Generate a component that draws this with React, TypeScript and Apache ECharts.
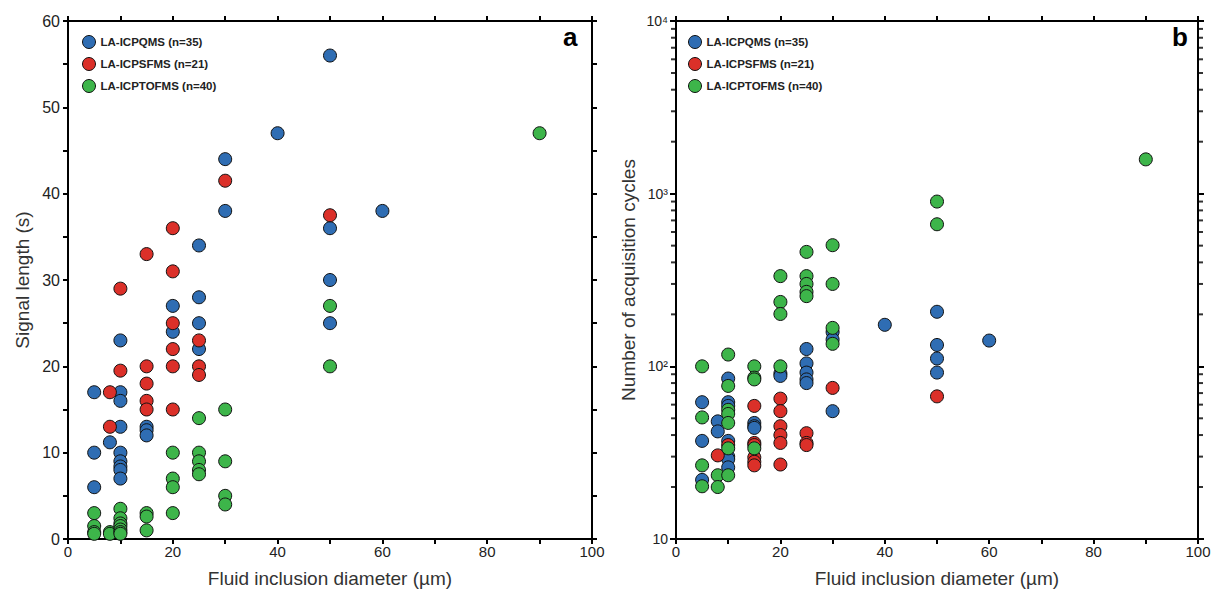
import React, { useEffect, useRef } from 'react';
import * as echarts from 'echarts';

const FONT = 'Arial, "Liberation Sans", Helvetica, sans-serif';
const BLUE = '#2f6db3';
const RED = '#db3029';
const GREEN = '#3db54a';

const seriesNames = ['LA-ICPQMS (n=35)', 'LA-ICPSFMS (n=21)', 'LA-ICPTOFMS (n=40)'];

// Panel a: signal length (s) vs fluid inclusion diameter (µm)
const signalQMS = [[5, 17], [5, 10], [5, 6], [8, 11.2], [10, 23], [10, 17], [10, 16], [10, 13], [10, 10], [10, 9], [10, 8.4], [10, 8], [10, 7], [15, 13], [15, 12.6], [15, 12], [20, 27], [20, 24], [25, 34], [25, 28], [25, 25], [25, 22], [30, 44], [30, 38], [40, 47], [50, 56], [50, 36], [50, 30], [50, 25], [60, 38]];
const signalSFMS = [[8, 17], [8, 13], [10, 29], [10, 19.5], [15, 33], [15, 20], [15, 18], [15, 16], [15, 15], [20, 36], [20, 31], [20, 25], [20, 22], [20, 20], [20, 15], [25, 23], [25, 20], [25, 19], [30, 41.5], [50, 37.5]];
const signalTOFMS = [[5, 3], [5, 1.5], [5, 0.8], [5, 0.6], [8, 0.8], [8, 0.6], [10, 3.5], [10, 2.4], [10, 1.8], [10, 1.5], [10, 1.1], [10, 0.8], [10, 0.6], [15, 3], [15, 2.6], [15, 1], [20, 10], [20, 7], [20, 6], [20, 3], [25, 14], [25, 10], [25, 9], [25, 8], [25, 7.5], [30, 15], [30, 9], [30, 5], [30, 4], [50, 27], [50, 20], [90, 47]];

// Panel b: number of acquisition cycles vs fluid inclusion diameter (µm)
const cyclesQMS = [[5, 62], [5, 37], [5, 22], [8, 48], [8, 42], [10, 85], [10, 62], [10, 59], [10, 37], [10, 30], [10, 29], [10, 26], [15, 47], [15, 45], [15, 44], [20, 91], [20, 88], [25, 126], [25, 104], [25, 92], [25, 84], [25, 80], [30, 158], [30, 143], [30, 55], [40, 174], [50, 207], [50, 133], [50, 111], [50, 92], [60, 141]];
const cyclesSFMS = [[8, 30.5], [10, 35], [15, 59], [15, 36], [15, 35], [15, 29.7], [15, 28], [15, 26.7], [20, 65], [20, 55], [20, 45], [20, 40], [20, 36], [20, 27], [25, 41], [25, 36], [25, 35], [30, 75], [50, 67]];
const cyclesTOFMS = [[5, 100], [5, 50.6], [5, 26.7], [5, 20.2], [8, 23.4], [8, 20], [10, 117], [10, 77], [10, 56], [10, 53], [10, 47], [10, 33.5], [10, 23.4], [15, 100], [15, 86], [15, 84], [15, 33.5], [20, 333], [20, 236], [20, 201], [20, 100], [25, 460], [25, 333], [25, 300], [25, 270], [25, 255], [30, 503], [30, 300], [30, 167], [30, 135], [50, 900], [50, 665], [90, 1580]];

// Log-axis minor tick values (2..9 of each decade)
const logMinorTicks = [20, 30, 40, 50, 60, 70, 80, 90, 200, 300, 400, 500, 600, 700, 800, 900, 2000, 3000, 4000, 5000, 6000, 7000, 8000, 9000];
const logLabels: Record<number, string> = { 1: '10', 2: '10²', 3: '10³', 4: '10⁴' };

const xTitle = 'Fluid inclusion diameter (µm)';

export default function App() {
  const ref = useRef<HTMLDivElement>(null);
  useEffect(() => {
    if (!ref.current) return;
    const chart = echarts.init(ref.current, undefined, { renderer: 'svg' });

    const lineStyle = { color: '#000', width: 2 };
    const tick = { show: true, inside: false, length: 5, lineStyle: { color: '#000', width: 2 } };
    const labelStyle = { fontFamily: FONT, color: '#222', fontSize: 15 };
    const nameStyle = { fontFamily: FONT, color: '#333', fontSize: 19 };

    const xBase = (gridIndex: number, position: 'top' | 'bottom', labels: boolean) => ({
      type: 'value',
      gridIndex,
      position,
      min: 0,
      max: 100,
      interval: 10,
      axisLine: { show: true, onZero: false, lineStyle },
      axisTick: { ...tick, interval: 0 },
      splitLine: { show: false },
      axisLabel: labels
        ? { show: true, ...labelStyle, margin: 5, formatter: (v: number) => (v % 20 === 0 ? String(v) : '') }
        : { show: false },
      name: labels ? xTitle : '',
      nameLocation: 'middle',
      nameGap: 30,
      nameTextStyle: nameStyle,
    });

    const scatterSeries = (data: number[][], color: string, name: string, xi: number, yi: number) => ({
      type: 'scatter',
      name,
      xAxisIndex: xi,
      yAxisIndex: yi,
      data,
      symbol: 'circle',
      symbolSize: 13,
      itemStyle: { color, borderColor: '#111', borderWidth: 1, opacity: 1 },
      emphasis: { disabled: true },
      clip: false,
    });

    const minorTickSeries = (xv: number, offset: number) => ({
      type: 'scatter',
      name: 'minor' + xv,
      xAxisIndex: 2,
      yAxisIndex: 2,
      data: logMinorTicks.map((v) => [xv, v]),
      symbol: 'rect',
      symbolSize: [5, 2],
      symbolOffset: [offset, 0],
      itemStyle: { color: '#000' },
      silent: true,
      clip: false,
      z: 5,
    });

    const legendBase = (left: number) => ({
      data: seriesNames,
      left,
      top: 30,
      orient: 'vertical',
      icon: 'circle',
      itemWidth: 13,
      itemHeight: 13,
      itemGap: 8,
      selectedMode: false,
      itemStyle: { borderColor: '#111', borderWidth: 1 },
      textStyle: { fontFamily: FONT, fontWeight: 'bold', fontSize: 11.5, color: '#222' },
    });

    chart.setOption({
      animation: false,
      backgroundColor: '#fff',
      grid: [
        { left: 68, top: 21, width: 524, height: 519, containLabel: false },
        { left: 676, top: 21, width: 522, height: 519, containLabel: false },
      ],
      xAxis: [
        xBase(0, 'bottom', true),
        xBase(0, 'top', false),
        xBase(1, 'bottom', true),
        xBase(1, 'top', false),
      ],
      yAxis: [
        {
          type: 'value',
          gridIndex: 0,
          position: 'left',
          min: 0,
          max: 60,
          interval: 5,
          axisLine: { show: true, onZero: false, lineStyle },
          axisTick: tick,
          splitLine: { show: false },
          axisLabel: { ...labelStyle, fontSize: 16, margin: 8, formatter: (v: number) => (v % 10 === 0 ? String(v) : '') },
          name: 'Signal length (s)',
          nameLocation: 'middle',
          nameGap: 36,
          nameTextStyle: nameStyle,
        },
        {
          type: 'value',
          gridIndex: 0,
          position: 'right',
          min: 0,
          max: 60,
          interval: 5,
          axisLine: { show: true, onZero: false, lineStyle },
          axisTick: tick,
          splitLine: { show: false },
          axisLabel: { show: false },
        },
        {
          type: 'log',
          logBase: 10,
          gridIndex: 1,
          position: 'left',
          min: 10,
          max: 10000,
          axisLine: { show: true, onZero: false, lineStyle },
          axisTick: { ...tick, length: 6 },
          splitLine: { show: false },
          axisLabel: {
            ...labelStyle,
            fontSize: 14,
            margin: 8,
            formatter: (v: number) => logLabels[Math.round(Math.log10(v))] || '',
          },
          name: 'Number of acquisition cycles',
          nameLocation: 'middle',
          nameGap: 38,
          nameTextStyle: nameStyle,
        },
        {
          type: 'log',
          logBase: 10,
          gridIndex: 1,
          position: 'right',
          min: 10,
          max: 10000,
          axisLine: { show: true, onZero: false, lineStyle },
          axisTick: { ...tick, length: 6 },
          splitLine: { show: false },
          axisLabel: { show: false },
        },
      ],
      legend: [legendBase(77), legendBase(683)],
      graphic: [
        { type: 'text', left: 563, top: 24, style: { text: 'a', font: `bold 26px ${FONT}`, fill: '#000' } },
        { type: 'text', left: 1172, top: 24, style: { text: 'b', font: `bold 26px ${FONT}`, fill: '#000' } },
      ],
      series: [
        scatterSeries(signalQMS, BLUE, seriesNames[0], 0, 0),
        scatterSeries(signalSFMS, RED, seriesNames[1], 0, 0),
        scatterSeries(signalTOFMS, GREEN, seriesNames[2], 0, 0),
        scatterSeries(cyclesQMS, BLUE, seriesNames[0], 2, 2),
        scatterSeries(cyclesSFMS, RED, seriesNames[1], 2, 2),
        scatterSeries(cyclesTOFMS, GREEN, seriesNames[2], 2, 2),
        minorTickSeries(0, -2.5),
        minorTickSeries(100, 2.5),
      ],
    });
    return () => chart.dispose();
  }, []);

  return (
    <div
      ref={ref}
      style={{ position: 'absolute', left: 0, top: 0, width: 1214, height: 593, background: '#fff' }}
    />
  );
}
